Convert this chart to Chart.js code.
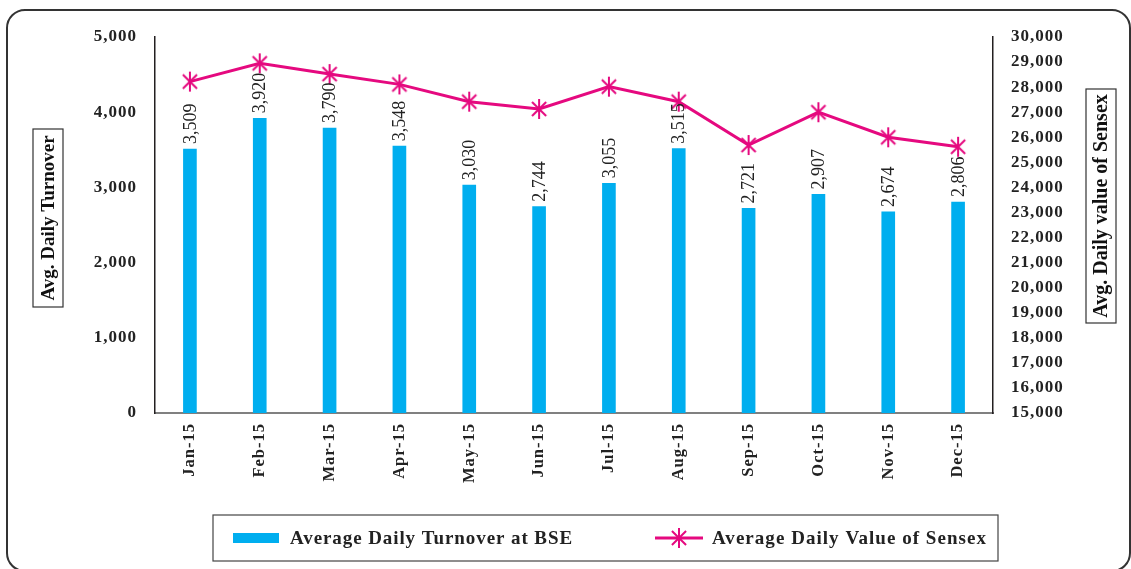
<!DOCTYPE html>
<html>
<head>
<meta charset="utf-8">
<script src="https://cdn.jsdelivr.net/npm/chart.js@4.4.1/dist/chart.umd.min.js"></script>
<style>
  html, body { margin: 0; padding: 0; background: #fff; }
  #wrap { width: 1131px; height: 569px; position: relative; }
</style>
</head>
<body>
<div id="wrap"><canvas id="bse-chart"></canvas></div>
<script>
// Data
const months = ['Jan-15', 'Feb-15', 'Mar-15', 'Apr-15', 'May-15', 'Jun-15',
                'Jul-15', 'Aug-15', 'Sep-15', 'Oct-15', 'Nov-15', 'Dec-15'];
const turnover = [3509, 3920, 3790, 3548, 3030, 2744, 3055, 3515, 2721, 2907, 2674, 2806];
const sensex = [28220, 28950, 28520, 28110, 27420, 27130, 28020, 27420, 25690, 27000, 26000, 25620];
const leftTitle = 'Avg. Daily Turnover';
const rightTitle = 'Avg. Daily value of Sensex';
const legendLabels = ['Average Daily Turnover at BSE', 'Average Daily Value of Sensex'];

const BLUE = '#00AEEF';
const PINK = '#E5097F';
const FONT = "'Liberation Serif', 'DejaVu Serif', serif";

// star marker (x plus vertical stroke), like the spreadsheet one
function makeStar(r) {
  const c = document.createElement('canvas');
  c.width = c.height = r * 2 + 4;
  const g = c.getContext('2d');
  const m = r + 2;
  const d = r * Math.SQRT1_2;
  g.strokeStyle = PINK;
  g.lineWidth = 2;
  g.beginPath();
  g.moveTo(m - d, m - d); g.lineTo(m + d, m + d);
  g.moveTo(m + d, m - d); g.lineTo(m - d, m + d);
  g.moveTo(m, m - r); g.lineTo(m, m + r);
  g.stroke();
  return c;
}
const starMarker = makeStar(10);

const fmt = v => v.toLocaleString('en-US');

// letter spacing only while the axes are painted
const spacing = {
  id: 'spacing',
  beforeDraw(chart) {
    const ctx = chart.ctx;
    // outer rounded frame
    ctx.save();
    ctx.strokeStyle = '#333';
    ctx.lineWidth = 2;
    ctx.beginPath();
    ctx.roundRect(7, 10, 1123, 561, 18);
    ctx.stroke();
    ctx.restore();
    ctx.letterSpacing = '1px';
  },
  beforeDatasetsDraw(chart) {
    chart.ctx.letterSpacing = '0px';
  }
};

const barLabels = {
  id: 'barLabels',
  afterDatasetsDraw(chart) {
    const ctx = chart.ctx;
    const idx = chart.data.datasets.findIndex(d => d.type === 'bar');
    const meta = chart.getDatasetMeta(idx);
    ctx.save();
    ctx.font = `18px ${FONT}`;
    ctx.fillStyle = '#222';
    ctx.textAlign = 'left';
    ctx.textBaseline = 'middle';
    meta.data.forEach((bar, i) => {
      ctx.save();
      ctx.translate(bar.x + 1, bar.y - 5);
      ctx.rotate(-Math.PI / 2);
      ctx.fillText(fmt(turnover[i]), 0, 0);
      ctx.restore();
    });
    ctx.restore();
  }
};

function fitSpacing(ctx, text, target) {
  ctx.letterSpacing = '0px';
  const w = ctx.measureText(text).width;
  ctx.letterSpacing = ((target - w) / text.length) + 'px';
}

function boxedTitle(ctx, text, cx, cy, w, h, font) {
  ctx.save();
  ctx.strokeStyle = '#333';
  ctx.lineWidth = 1.2;
  ctx.strokeRect(cx - w / 2, cy - h / 2, w, h);
  ctx.translate(cx, cy);
  ctx.rotate(-Math.PI / 2);
  ctx.font = font;
  ctx.fillStyle = '#111';
  ctx.textAlign = 'center';
  ctx.textBaseline = 'middle';
  ctx.fillText(text, 0, 1);
  ctx.restore();
}

const titlesAndLegend = {
  id: 'titlesAndLegend',
  afterDraw(chart) {
    const ctx = chart.ctx;
    boxedTitle(ctx, leftTitle, 48, 218, 30, 178, `bold 19px ${FONT}`);
    boxedTitle(ctx, rightTitle, 1101, 206, 30, 234, `bold 20px ${FONT}`);

    // legend
    ctx.save();
    ctx.strokeStyle = '#444';
    ctx.lineWidth = 1.2;
    ctx.strokeRect(213, 515, 785, 46);
    ctx.fillStyle = BLUE;
    ctx.fillRect(233, 533, 46, 10);
    ctx.strokeStyle = PINK;
    ctx.lineWidth = 3;
    ctx.beginPath();
    ctx.moveTo(655, 538);
    ctx.lineTo(703, 538);
    ctx.stroke();
    ctx.drawImage(starMarker, 679 - starMarker.width / 2, 538 - starMarker.height / 2);
    ctx.fillStyle = '#222';
    ctx.font = `bold 19px ${FONT}`;
    ctx.textAlign = 'left';
    ctx.textBaseline = 'middle';
    fitSpacing(ctx, legendLabels[0], 283);
    ctx.fillText(legendLabels[0], 290, 539);
    fitSpacing(ctx, legendLabels[1], 275);
    ctx.fillText(legendLabels[1], 712, 539);
    ctx.restore();
  }
};

const tickFont = { family: FONT, size: 17, weight: 'bold' };

const config = {
  type: 'bar',
  data: {
    labels: months,
    datasets: [
      {
        type: 'line',
        label: legendLabels[1],
        data: sensex,
        yAxisID: 'y1',
        borderColor: PINK,
        borderWidth: 3,
        pointStyle: starMarker,
        pointRadius: 10,
        tension: 0,
        order: 1
      },
      {
        type: 'bar',
        label: legendLabels[0],
        data: turnover,
        yAxisID: 'y',
        backgroundColor: BLUE,
        barThickness: 13,
        order: 2
      }
    ]
  },
  options: {
    responsive: true,
    maintainAspectRatio: false,
    animation: false,
    layout: { padding: { top: 37, left: 0, right: 0, bottom: 0 } },
    plugins: {
      legend: { display: false },
      tooltip: { enabled: false }
    },
    scales: {
      x: {
        grid: { display: false, drawTicks: false },
        border: { display: true, color: '#808080', width: 2 },
        ticks: {
          maxRotation: 90,
          minRotation: 90,
          padding: 10,
          color: '#222',
          font: { family: FONT, size: 16.5, weight: 'bold' }
        },
        afterFit: s => { s.height = 156; }
      },
      y: {
        position: 'left',
        min: 0,
        max: 5000,
        grid: { display: false, drawTicks: false },
        border: { display: true, color: '#231F20', width: 1.5 },
        ticks: {
          stepSize: 1000,
          padding: 18,
          color: '#222',
          font: tickFont,
          callback: v => fmt(v)
        },
        afterFit: s => { s.width = 155; }
      },
      y1: {
        position: 'right',
        min: 15000,
        max: 30000,
        grid: { display: false, drawTicks: false },
        border: { display: true, color: '#231F20', width: 1.5 },
        ticks: {
          stepSize: 1000,
          padding: 18,
          color: '#222',
          font: tickFont,
          callback: v => fmt(v)
        },
        afterFit: s => { s.width = 138; }
      }
    }
  },
  plugins: [spacing, barLabels, titlesAndLegend]
};

new Chart(document.getElementById('bse-chart'), config);
</script>
</body>
</html>
